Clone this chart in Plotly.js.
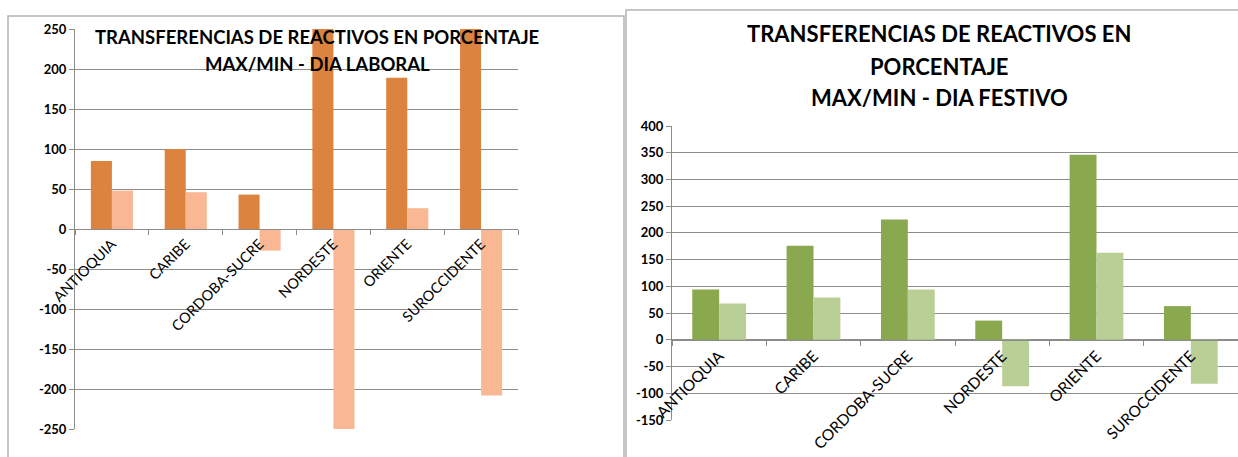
<!DOCTYPE html>
<html><head><meta charset="utf-8">
<script src="https://cdn.plot.ly/plotly-3.0.1.min.js"></script>
<style>html,body{margin:0;padding:0;background:#fff}#chart{width:1238px;height:457px}</style>
</head><body><div id="chart"></div>
<script>
const categories = ['ANTIOQUIA','CARIBE','CORDOBA-SUCRE','NORDESTE','ORIENTE','SUROCCIDENTE'];
const laboralMax = [85, 100, 43, 300, 189, 300];
const laboralMin = [48, 46, -27, -252, 26, -208];
const festivoMax = [94, 176, 225, 36, 346, 63];
const festivoMin = [68, 79, 94, -87, 163, -82];
const laboralTicks = [-250, -200, -150, -100, -50, 0, 50, 100, 150, 200, 250];
const festivoTicks = [-150, -100, -50, 0, 50, 100, 150, 200, 250, 300, 350, 400];
const titleLaboral = ['TRANSFERENCIAS DE REACTIVOS EN PORCENTAJE', 'MAX/MIN - DIA LABORAL'];
const titleFestivo = ['TRANSFERENCIAS DE REACTIVOS EN', 'PORCENTAJE', 'MAX/MIN - DIA FESTIVO'];

const W = 1238, H = 457;
const px = x => x / W;
const py = y => 1 - y / H;
const FONT = 'Lato, "Open Sans", sans-serif';
const GRID = '#8c8c8c';
const tickText = arr => arr.map(v => '<b>' + String(v) + '</b>');

const traces = [
  {type:'bar', x:categories, y:laboralMax, xaxis:'x', yaxis:'y', marker:{color:'#DC843F'}, name:'MAX'},
  {type:'bar', x:categories, y:laboralMin, xaxis:'x', yaxis:'y', marker:{color:'#F9B893'}, name:'MIN'},
  {type:'bar', x:categories, y:festivoMax, xaxis:'x2', yaxis:'y2', marker:{color:'#8AA84E'}, name:'MAX'},
  {type:'bar', x:categories, y:festivoMin, xaxis:'x2', yaxis:'y2', marker:{color:'#BACF96'}, name:'MIN'}
];

const xCommon = {
  type:'category', tickson:'boundaries', ticks:'outside', ticklen:5, tickcolor:GRID,
  showline:true, linecolor:GRID, linewidth:1, tickangle:-45, showgrid:false, zeroline:false,
  fixedrange:true
};
const yCommon = {
  tickmode:'array', showgrid:true, gridcolor:GRID, gridwidth:1, showline:true, linecolor:GRID,
  ticks:'outside', ticklen:5, tickcolor:GRID, zeroline:false,
  tickfont:{family:FONT, size:13, color:'#000', weight:'bold'}, fixedrange:true
};

const ann = [];
const lTitleY = [37, 64];
titleLaboral.forEach((t,i) => ann.push({xref:'paper', yref:'paper', x:px(317), y:py(lTitleY[i]),
  xanchor:'center', yanchor:'middle', showarrow:false, text:t,
  font:{family:FONT, size:18.5, color:'#000', weight:'bold'}}));
const rTitleY = [33, 66, 98];
titleFestivo.forEach((t,i) => ann.push({xref:'paper', yref:'paper', x:px(939), y:py(rTitleY[i]),
  xanchor:'center', yanchor:'middle', showarrow:false, text:t,
  font:{family:FONT, size:22, color:'#000', weight:'bold'}}));

const layout = {
  width:W, height:H, margin:{l:0, r:0, t:0, b:0},
  paper_bgcolor:'#fff', plot_bgcolor:'rgba(0,0,0,0)',
  showlegend:false, barmode:'group', bargap:0.43, bargroupgap:0,
  xaxis: Object.assign({}, xCommon, {domain:[px(75), px(518)], anchor:'free', position:py(229),
    tickfont:{family:FONT, size:14.5, color:'#000'}}),
  yaxis: Object.assign({}, yCommon, {domain:[py(429), py(29)], range:[-250,250], anchor:'x',
    tickvals:laboralTicks, ticktext:tickText(laboralTicks)}),
  xaxis2: Object.assign({}, xCommon, {domain:[px(672), 1], anchor:'free', position:py(340),
    tickfont:{family:FONT, size:15.5, color:'#000'}}),
  yaxis2: Object.assign({}, yCommon, {domain:[py(420), py(126)], range:[-150,400], anchor:'x2',
    tickvals:festivoTicks, ticktext:tickText(festivoTicks)}),
  annotations: ann,
  shapes: [
    {type:'rect', xref:'paper', yref:'paper', x0:px(8), x1:px(624), y0:py(480), y1:py(16), line:{color:'#b4b4b4', width:1.5}, layer:'below'},
    {type:'rect', xref:'paper', yref:'paper', x0:px(626), x1:px(1260), y0:py(480), y1:py(10), line:{color:'#b4b4b4', width:1.5}, layer:'below'}
  ]
};

Plotly.newPlot('chart', traces, layout, {displayModeBar:false, staticPlot:true});
</script>
</body></html>
